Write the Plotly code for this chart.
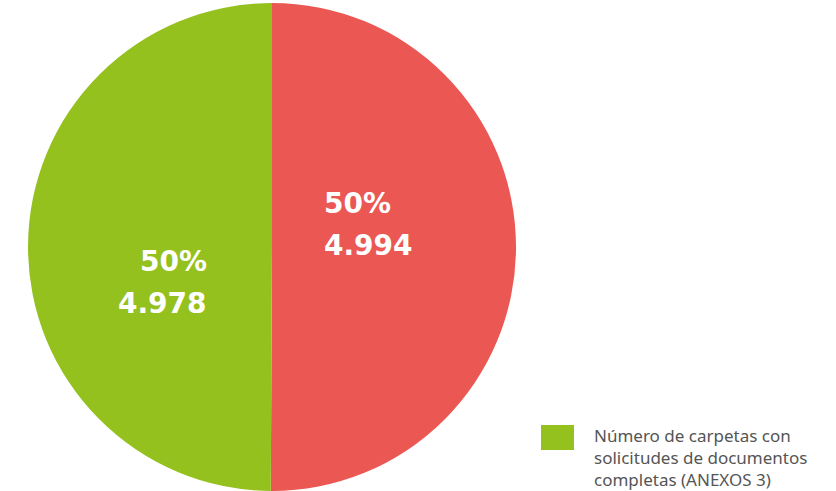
import plotly.graph_objects as go

labels = ["Otros", "Número de carpetas con solicitudes de documentos completas (ANEXOS 3)"]
values = [4994, 4978]
colors = ["#EB5753", "#95C11F"]
legend_lines = ["Número de carpetas con", "solicitudes de documentos", "completas (ANEXOS 3)"]

W, H = 836, 491
total = sum(values)

def fmt(v):
    return f"{v:,}".replace(",", ".")

fig = go.Figure(go.Pie(
    labels=labels, values=values, sort=False, direction="clockwise", rotation=0,
    marker=dict(colors=colors), textinfo="none", hoverinfo="label+value+percent",
    showlegend=False,
    domain=dict(x=[28 / W, 516 / W], y=[0.0, 0.994]),
))

# slice labels
label_font = dict(family="DejaVu Sans, sans-serif", size=28, color="white")
pos = [  # (x, y_first_line, anchor)
    (322, 203, "left"),
    (209, 261, "right"),
]
for (x, y0, anc), v in zip(pos, values):
    pct = f"{round(100 * v / total)}%"
    for i, t in enumerate([pct, fmt(v)]):
        fig.add_annotation(x=x / W, y=1 - (y0 + i * 42) / H, xref="paper", yref="paper",
                           text=f"<b>{t}</b>", showarrow=False, xanchor=anc, yanchor="middle",
                           font=label_font)

# legend (single item)
fig.add_shape(type="rect", xref="paper", yref="paper",
              x0=541 / W, x1=574 / W, y0=1 - 450 / H, y1=1 - 425 / H,
              fillcolor=colors[1], line=dict(width=0))
for i, line in enumerate(legend_lines):
    fig.add_annotation(x=592 / W, y=1 - (435 + 22 * i) / H, xref="paper", yref="paper",
                       text=line, showarrow=False, xanchor="left", yanchor="middle", align="left",
                       font=dict(family="Noto Sans, Open Sans, sans-serif", size=17, color="#555555"))

fig.update_layout(width=W, height=H, margin=dict(l=0, r=0, t=0, b=0),
                  paper_bgcolor="white", plot_bgcolor="white")
fig.write_html("out.html")
